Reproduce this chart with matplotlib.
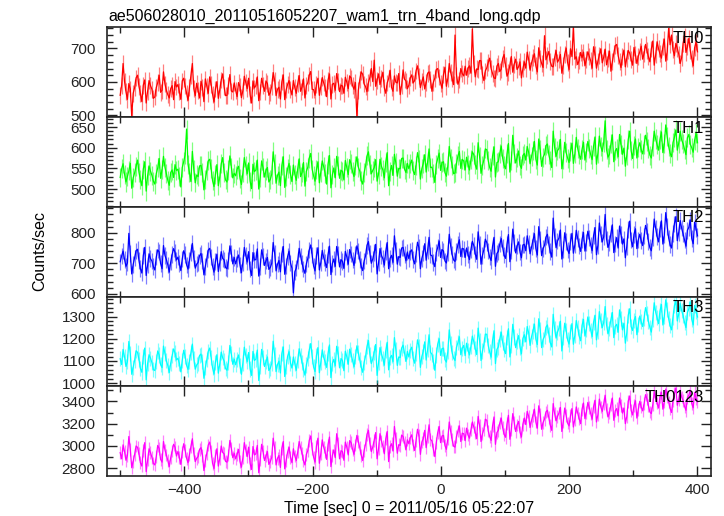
import numpy as np
import matplotlib
matplotlib.use('Agg')
import matplotlib.pyplot as plt
from matplotlib.ticker import MultipleLocator

plt.rcParams['font.family'] = ['Liberation Sans', 'DejaVu Sans']

TITLE = 'ae506028010_20110516052207_wam1_trn_4band_long.qdp'
T_START, T_END = -500.0, 400.0

# count rates (c/s)
th0 = [560,590, 655,602, 571,548, 595,579, 497,566, 583,612, 620,587, 566,541, 590,606, 537,572, 604,589, 578,551, 555,583, 598,620, 569,575, 630,594, 575,562, 552,580, 589,547, 601,585,
       592,571, 548,603, 611,588, 567,545, 583,618, 655,580, 559,596, 574,552, 602,584, 541,609, 588,566, 615,593, 563,540, 579,601, 551,577, 606,624, 585,559, 560,590, 622,573, 570,597,
       575,556, 598,586, 553,574, 617,599, 580,611, 562,537, 603,582, 589,615, 544,570, 611,590, 572,603, 595,560, 568,587, 628,605, 559,578, 584,549, 600,621, 547,576, 593,604, 578,561,
       604,583, 566,595, 619,572, 585,609, 552,589, 598,620, 631,578, 577,560, 592,611, 560,586, 613,597, 583,556, 605,624, 549,593, 596,575, 625,602, 571,590, 588,566, 614,599, 580,618,
       612,589, 578,598, 493,575, 607,630, 623,594, 586,571, 598,614, 640,601, 665,587, 605,624, 592,610, 629,583, 566,597, 610,635, 584,572, 618,599, 597,625, 562,590, 636,608, 603,580,
       590,612, 621,597, 604,633, 648,618, 583,601, 615,579, 598,626, 630,607, 572,599, 611,637, 640,615, 596,581, 622,644, 587,610, 655,628, 609,592, 740,621, 593,606, 640,625, 618,647,
       620,641, 648,626, 758,655, 615,639, 637,664, 663,622, 604,633, 642,658, 671,640, 625,612, 610,647, 655,631, 638,670, 682,649, 617,628, 650,676, 629,653, 668,637, 645,660, 612,639,
       660,641, 689,668, 635,657, 672,684, 648,630, 702,671, 655,643, 738,666, 678,691, 660,647, 645,673, 694,659, 667,682, 626,650, 683,701, 658,637, 699,676, 765,668, 675,652, 664,688,
       672,689, 648,667, 690,676, 663,641, 705,683, 641,662, 680,699, 657,674, 698,651, 670,692, 632,660, 685,708, 712,679, 660,643, 676,695, 645,671, 694,686, 668,650, 703,681, 655,677,
       690,707, 668,685, 712,693, 675,660, 698,722, 650,681, 720,699, 684,671, 705,728, 662,690, 760,711, 740,696, 678,715, 700,683, 655,672, 715,736, 688,705, 730,694, 670,648, 702,719, 690]
th1 = [528,549, 561,536, 517,530, 544,562, 502,527, 539,555, 570,541, 523,508, 548,566, 495,532, 556,543, 533,519, 512,537, 551,574, 526,547, 579,553, 537,521, 509,540, 546,528, 559,545,
       548,531, 505,552, 566,583, 645,560, 540,518, 591,547, 515,534, 530,556, 557,539, 498,523, 544,568, 572,550, 520,506, 536,559, 508,529, 561,576, 541,522, 517,546, 580,553, 527,538,
       532,548, 555,526, 511,539, 576,557, 537,563, 519,501, 560,542, 546,570, 500,528, 568,551, 529,545, 552,517, 523,536, 590,561, 514,533, 541,508, 557,578, 504,530, 549,562, 535,518,
       558,536, 521,549, 573,530, 540,564, 507,543, 553,575, 586,548, 532,519, 547,566, 515,541, 568,554, 538,512, 560,581, 503,534, 551,527, 579,556, 526,545, 543,522, 569,552, 535,571,
       561,542, 530,557, 578,553, 543,521, 512,539, 556,580, 590,560, 537,545, 552,571, 519,536, 572,555, 546,527, 565,588, 508,542, 557,533, 584,563, 531,550, 549,574, 575,548, 540,562,
       549,561, 570,544, 535,558, 588,571, 524,549, 562,583, 541,566, 597,552, 553,538, 516,560, 574,587, 545,564, 566,540, 531,556, 603,575, 558,537, 539,562, 580,591, 550,572, 568,546,
       577,560, 546,571, 590,583, 559,548, 612,579, 538,556, 571,597, 595,569, 552,543, 580,602, 529,564, 566,586, 604,575, 557,549, 585,610, 541,568, 630,587, 563,576, 592,558, 550,581,
       586,570, 603,589, 561,579, 594,615, 572,558, 621,596, 555,577, 584,605, 609,583, 568,552, 640,601, 579,593, 598,620, 549,571, 613,588, 575,564, 590,611, 562,585, 625,598, 583,572,
       596,613, 570,589, 615,598, 583,571, 604,626, 560,587, 628,603, 591,612, 665,595, 577,584, 609,631, 566,592, 598,578, 632,607, 584,599, 555,581, 619,640, 593,574, 606,621, 575,600,
       612,595, 585,607, 630,616, 598,582, 575,603, 640,621, 607,594, 620,638, 588,609, 655,626, 603,587, 578,612, 625,643, 594,611, 640,619, 610,596, 583,624, 632,608, 600,589, 618,635, 612]
th2 = [705,724, 740,713, 690,701, 798,732, 665,696, 718,741, 746,709, 683,668, 725,752, 660,694, 731,715, 707,689, 678,720, 744,737, 699,682, 758,726, 712,695, 671,704, 729,748, 736,711,
       720,699, 676,714, 741,728, 695,681, 710,736, 765,718, 684,697, 703,725, 732,707, 662,690, 715,743, 749,721, 690,671, 706,730, 673,702, 738,716, 711,686, 682,709, 757,733, 698,719,
       698,715, 727,694, 669,703, 752,726, 704,738, 681,660, 735,711, 712,747, 658,689, 744,722, 693,708, 719,680, 686,700, 768,734, 675,697, 709,672, 731,755, 664,691, 722,740, 701,684,
       603,672, 684,709, 749,723, 700,681, 667,698, 716,744, 760,727, 691,675, 725,751, 678,702, 742,719, 703,686, 728,756, 663,699, 714,690, 755,731, 688,712, 706,683, 739,721, 697,745,
       730,711, 693,728, 757,740, 712,690, 676,707, 724,759, 771,733, 700,714, 735,762, 665,701, 748,726, 715,694, 739,768, 682,716, 726,703, 790,744, 697,722, 719,750, 752,729, 708,737,
       715,738, 744,712, 698,730, 769,751, 682,716, 733,764, 710,742, 785,727, 725,703, 689,735, 752,773, 719,745, 740,708, 701,733, 795,756, 728,711, 706,739, 761,777, 722,749, 747,719,
       750,729, 712,744, 772,758, 731,713, 803,764, 697,726, 745,779, 768,741, 720,709, 756,785, 690,732, 739,763, 781,752, 727,716, 763,794, 705,740, 812,768, 734,757, 770,737, 718,760,
       762,741, 790,766, 731,753, 774,797, 748,727, 820,779, 725,748, 759,786, 795,762, 738,720, 848,790, 751,773, 783,809, 714,745, 800,771, 744,732, 771,798, 733,760, 808,781, 757,739,
       778,801, 740,768, 805,782, 760,741, 791,817, 728,759, 832,796, 770,787, 860,779, 752,767, 798,826, 735,763, 784,750, 822,794, 763,780, 718,755, 811,838, 776,754, 795,813, 748,777,
       795,774, 758,789, 824,806, 772,751, 741,783, 845,815, 788,770, 812,839, 763,792, 866,821, 783,762, 750,797, 829,853, 774,801, 840,815, 797,776, 756,808, 818,842, 781,764, 835,812, 790]
th3 = [1110,1084, 1152,1119, 1075,1097, 1188,1132, 1040,1071, 1103,1146, 1139,1108, 1066,1049, 1120,1158, 1015,1088, 1128,1113, 1092,1061, 1057,1096, 1145,1127, 1083,1070, 1167,1135, 1101,1079, 1048,1090, 1124,1154, 1136,1105,
       1112,1089, 1051,1103, 1148,1121, 1080,1062, 1099,1137, 1176,1110, 1063,1082, 1090,1125, 1131,1098, 1022,1070, 1105,1143, 1158,1116, 1069,1041, 1094,1128, 1045,1087, 1140,1114, 1100,1066, 1058,1093, 1170,1132, 1085,1108,
       1083,1106, 1127,1078, 1040,1091, 1162,1125, 1097,1138, 1064,1035, 1143,1102, 1108,1149, 1012,1074, 1152,1117, 1075,1096, 1118,1057, 1067,1089, 1189,1130, 1052,1084, 1099,1046, 1134,1163, 1030,1077, 1121,1142, 1090,1068,
       1118,1087, 1058,1101, 1155,1124, 1092,1063, 1036,1082, 1110,1149, 1178,1121, 1073,1052, 1125,1160, 1047,1094, 1150,1116, 1096,1071, 1133,1172, 1025,1089, 1107,1078, 1166,1134, 1069,1111, 1102,1056, 1144,1119, 1085,1153,
       1130,1101, 1074,1119, 1168,1137, 1105,1072, 1049,1094, 1121,1165, 1192,1128, 1088,1109, 1140,1174, 1035,1092, 1160,1133, 1110,1081, 1146,1184, 1060,1114, 1125,1097, 1205,1150, 1080,1118, 1115,1158, 1171,1136, 1098,1143,
       1118,1149, 1162,1111, 1090,1134, 1195,1167, 1071,1120, 1143,1186, 1104,1152, 1218,1139, 1130,1096, 1058,1127, 1176,1200, 1125,1155, 1158,1106, 1095,1142, 1240,1178, 1137,1113, 1102,1161, 1183,1209, 1128,1157, 1170,1124,
       1180,1148, 1127,1166, 1212,1187, 1155,1129, 1248,1193, 1102,1145, 1175,1221, 1220,1170, 1141,1117, 1192,1236, 1088,1152, 1163,1199, 1230,1184, 1150,1133, 1205,1245, 1118,1172, 1265,1208, 1160,1190, 1214,1163, 1132,1201,
       1218,1186, 1255,1227, 1170,1209, 1235,1266, 1198,1174, 1290,1241, 1160,1197, 1210,1252, 1262,1220, 1182,1163, 1310,1246, 1203,1230, 1248,1279, 1145,1206, 1270,1238, 1195,1176, 1232,1268, 1175,1214, 1282,1249, 1212,1191,
       1260,1287, 1212,1243, 1298,1269, 1238,1210, 1275,1306, 1195,1234, 1322,1281, 1250,1273, 1345,1262, 1222,1247, 1286,1318, 1205,1256, 1265,1229, 1330,1291, 1240,1270, 1180,1226, 1305,1335, 1255,1237, 1282,1300, 1218,1264,
       1302,1276, 1255,1293, 1340,1315, 1278,1251, 1230,1286, 1362,1320, 1295,1268, 1325,1354, 1262,1300, 1375,1331, 1290,1259, 1240,1297, 1348,1372, 1280,1311, 1360,1327, 1305,1274, 1250,1318, 1335,1366, 1288,1262, 1350,1323, 1298]
th0123 = [2940,2885, 3010,2950, 2872,2915, 3085,2968, 2805,2862, 2925,3000, 2988,2930, 2850,2820, 2960,3030, 2770,2875, 2975,2940, 2898,2845, 2830,2905, 3005,2978, 2880,2855, 3040,2965, 2920,2870, 2815,2895, 2955,3015, 2990,2910,
          2950,2900, 2835,2945, 3020,2962, 2890,2850, 2925,2995, 3065,2938, 2860,2890, 2905,2970, 2985,2918, 2780,2868, 2935,3008, 3035,2955, 2845,2798, 2912,2975, 2820,2888, 3000,2942, 2930,2862, 2855,2920, 3050,2980, 2895,2935,
          2885,2925, 2970,2860, 2810,2895, 3030,2965, 2905,2990, 2845,2790, 2995,2920, 2930,3005, 2760,2880, 3015,2948, 2870,2910, 2950,2835, 2860,2898, 3070,2985, 2830,2890, 2915,2808, 2980,3040, 2795,2872, 2945,2990, 2900,2850,
          2975,2910, 2870,2945, 3040,2985, 2935,2868, 2830,2925, 2960,3050, 3090,2975, 2900,2855, 3000,3070, 2845,2930, 3055,2990, 2945,2880, 3010,3080, 2815,2915, 2965,2895, 3110,3020, 2885,2958, 2950,2872, 3035,2990, 2920,3048,
          3030,2970, 2925,3010, 3095,3040, 2985,2918, 2870,2960, 3015,3105, 3140,3025, 2950,2990, 3050,3120, 2885,2975, 3110,3045, 3000,2930, 3065,3130, 2860,2995, 3020,2955, 3175,3068, 2935,3012, 3005,3098, 3085,3030, 2965,3055,
          3020,3075, 3100,3010, 2960,3050, 3150,3092, 2925,3035, 3065,3140, 2985,3080, 3190,3060, 3045,2970, 2905,3028, 3120,3175, 3030,3090, 3095,3005, 2970,3062, 3215,3130, 3055,2998, 2990,3085, 3135,3180, 3040,3115, 3110,3048,
          3160,3098, 3070,3145, 3215,3170, 3120,3065, 3265,3185, 3040,3110, 3150,3240, 3230,3135, 3085,3050, 3180,3260, 3015,3120, 3140,3205, 3250,3165, 3105,3078, 3200,3275, 3060,3150, 3290,3210, 3130,3188, 3220,3125, 3080,3195,
          3250,3192, 3310,3268, 3165,3230, 3275,3330, 3215,3160, 3360,3285, 3150,3210, 3240,3305, 3320,3255, 3185,3140, 3380,3290, 3225,3265, 3295,3345, 3130,3220, 3340,3275, 3205,3180, 3270,3335, 3170,3238, 3350,3295, 3245,3200,
          3330,3385, 3245,3300, 3390,3345, 3290,3240, 3355,3410, 3215,3280, 3420,3350, 3310,3375, 3455,3325, 3260,3295, 3370,3430, 3230,3315, 3335,3270, 3430,3365, 3295,3340, 3200,3262, 3400,3448, 3320,3278, 3360,3405, 3250,3330,
          3400,3350, 3315,3378, 3460,3420, 3360,3305, 3290,3370, 3490,3430, 3385,3340, 3440,3482, 3330,3395, 3510,3445, 3395,3338, 3300,3405, 3470,3520, 3365,3418, 3500,3440, 3410,3355, 3320,3432, 3455,3498, 3380,3342, 3480,3425, 3395]

bands = ['TH0', 'TH1', 'TH2', 'TH3', 'TH0123']
series = [th0, th1, th2, th3, th0123]
errs = [25, 23, 27, 34, 57]
colors = ['#ff0000', '#00ff00', '#0000ff', '#00ffff', '#ff00ff']
ylims = [(495, 763), (457, 674), (591, 885), (986, 1390), (2731, 3535)]
major = [100, 50, 100, 100, 200]
minor = [20, 10, 20, 20, 100]

fig, axes = plt.subplots(5, 1, sharex=True, figsize=(7.24, 5.16), dpi=100)
fig.subplots_adjust(left=0.1474, right=0.982, bottom=0.0775, top=0.947, hspace=0)

for ax, name, vals, e, c, yl, mj, mn in zip(axes, bands, series, errs, colors, ylims, major, minor):
    t = np.linspace(T_START, T_END, len(vals))
    ax.errorbar(t, vals, yerr=e, fmt='none', ecolor=c, alpha=0.5, elinewidth=0.9)
    ax.plot(t, vals, color=c, lw=0.9)
    ax.set_ylim(*yl)
    ax.yaxis.set_major_locator(MultipleLocator(mj))
    ax.yaxis.set_minor_locator(MultipleLocator(mn))
    ax.xaxis.set_major_locator(MultipleLocator(200))
    ax.xaxis.set_minor_locator(MultipleLocator(100))
    ax.tick_params(which='both', direction='in', top=True, right=True, labelsize=11, colors='#222222')
    ax.tick_params(which='major', length=7, width=1)
    ax.tick_params(which='minor', length=4, width=1)
    ax.tick_params(axis='y', pad=8)
    ax.tick_params(axis='x', pad=5)
    for s in ax.spines.values():
        s.set_color('#222222')
        s.set_linewidth(1.2)
    ax.text(0.988, 0.96, name, transform=ax.transAxes, ha='right', va='top', fontsize=12)

axes[-1].set_xlim(-521, 421)
fig.text(108 / 724, 1 - 21 / 516, TITLE, fontsize=11.5, ha='left', va='baseline')
fig.text(40 / 724, 1 - 251 / 516, 'Counts/sec', rotation=90, ha='center', va='center', fontsize=11.5)
fig.text(409 / 724, 1 - 508 / 516, 'Time [sec] 0 = 2011/05/16 05:22:07', ha='center', va='center', fontsize=11.5)

fig.savefig('out.png', dpi=100)
